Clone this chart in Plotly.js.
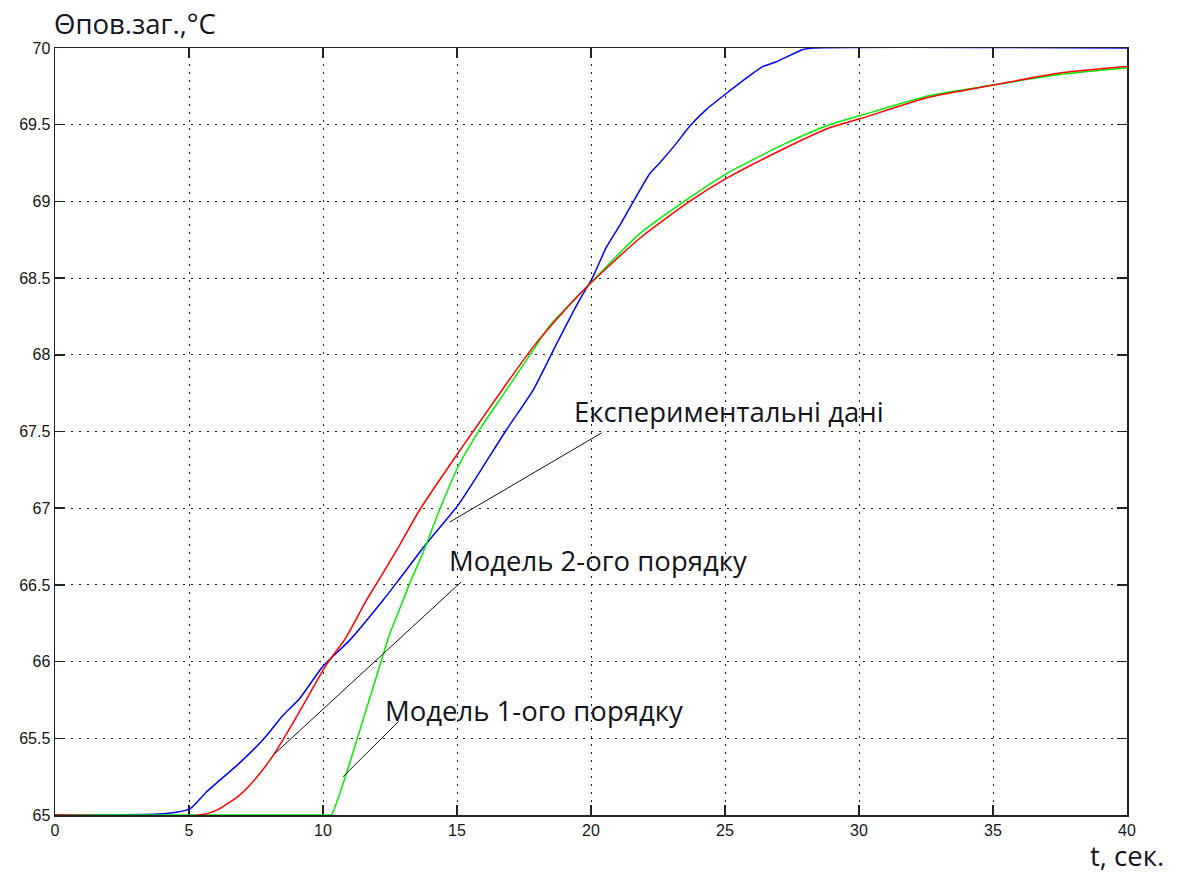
<!DOCTYPE html>
<html>
<head>
<meta charset="utf-8">
<script src="https://cdn.plot.ly/plotly-3.0.1.min.js"></script>
<style>
  html, body { margin: 0; padding: 0; background: #fff; }
  #chart { width: 1184px; height: 874px; }
</style>
</head>
<body>
<div id="chart"></div>
<script>
// Surface temperature step responses: measured data and two fitted models

// Experimental data (time, s / temperature, °C)
const expT = [0, 4.15, 5.03, 5.65, 6.89, 7.76, 8.51, 9.13, 10.0, 11.0, 12.24, 12.86, 13.86, 15.04, 15.97, 16.84, 17.84, 18.71, 19.58, 20.05, 20.57, 21.13, 21.75, 22.19, 22.56, 23.19, 23.68, 24.31, 25.17, 25.92, 26.42, 26.92, 27.91, 28.3, 40];
const expY = [65, 65.01, 65.04, 65.15, 65.34, 65.49, 65.65, 65.76, 65.97, 66.14, 66.40, 66.54, 66.77, 67.02, 67.27, 67.51, 67.77, 68.07, 68.36, 68.50, 68.70, 68.86, 69.05, 69.18, 69.25, 69.38, 69.49, 69.60, 69.72, 69.82, 69.88, 69.91, 69.99, 70, 70];

// Second-order model
const m2T = [0, 5.40, 6.02, 6.89, 7.64, 8.26, 8.88, 9.50, 10.13, 10.87, 11.62, 11.97, 12.86, 13.61, 15.04, 15.60, 16.84, 17.84, 18.71, 19.83, 21.82, 23.68, 25.05, 27.16, 28.9, 30.06, 32.64, 35.06, 37.6, 40];
const m2Y = [65, 65, 65.03, 65.13, 65.27, 65.42, 65.60, 65.79, 65.98, 66.16, 66.40, 66.50, 66.76, 66.99, 67.36, 67.50, 67.81, 68.05, 68.23, 68.44, 68.76, 69.00, 69.15, 69.34, 69.48, 69.54, 69.68, 69.76, 69.84, 69.88];

// First-order model with transport delay
const m1T = [0, 10.2, 10.31, 10.87, 11.37, 11.99, 12.49, 12.99, 13.21, 13.73, 14.35, 15.04, 15.91, 16.84, 17.84, 18.46, 19.83, 21.82, 23.56, 25.05, 27.16, 28.9, 30.06, 32.64, 35.06, 37.6, 40];
const m1Y = [65, 65, 65, 65.27, 65.55, 65.90, 66.18, 66.40, 66.50, 66.71, 66.99, 67.27, 67.53, 67.77, 68.03, 68.19, 68.44, 68.79, 69.01, 69.18, 69.37, 69.50, 69.56, 69.69, 69.76, 69.83, 69.87];

// Axis ticks
const xTicks = [0, 5, 10, 15, 20, 25, 30, 35, 40];
const yTicks = [65, 65.5, 66, 66.5, 67, 67.5, 68, 68.5, 69, 69.5, 70];

// Callout labels and their leader lines (from point on curve to label)
const calloutText = ["Експериментальні дані", "Модель 2-ого порядку", "Модель 1-ого порядку"];
const leaderFromT = [14.73, 8.20, 10.75];
const leaderFromY = [66.91, 65.40, 65.25];
const leaderToT = [20.39, 15.16, 12.82];
const leaderToY = [67.49, 66.52, 65.61];

const textFont = { family: "Open Sans, Noto Sans, sans-serif", size: 27.5, color: "#141420" };
const tickFont = { family: "Liberation Sans, Arial, sans-serif", size: 16, color: "#151515" };

const curve = (color) => ({ color: color, width: 1.5, shape: "spline", smoothing: 0.6 });

const traces = [
  { x: expT, y: expY, mode: "lines", line: curve("#0000ff"), name: calloutText[0] },
  { x: m1T, y: m1Y, mode: "lines", line: curve("#00ee00"), name: calloutText[2] },
  { x: m2T, y: m2Y, mode: "lines", line: curve("#ff0000"), name: calloutText[1] }
];

// Label placement (data coordinates of each label's left-centre point)
const labelAt = [[19.28, 67.63], [14.62, 66.66], [12.24, 65.68]];

const shapes = leaderFromT.map((t, i) => ({
  type: "line", xref: "x", yref: "y",
  x0: t, y0: leaderFromY[i], x1: leaderToT[i], y1: leaderToY[i],
  line: { color: "#111", width: 1 }, layer: "above"
}));

const annotations = calloutText.map((txt, i) => ({
  x: labelAt[i][0], y: labelAt[i][1], xref: "x", yref: "y",
  text: txt, showarrow: false, xanchor: "left", yanchor: "middle",
  font: textFont
}));
annotations.push({
  x: 0, y: 1, xref: "paper", yref: "paper", xanchor: "left", yanchor: "bottom",
  yshift: 4, xshift: -3,
  text: "Θпов.заг.,°C", showarrow: false, font: textFont
});
annotations.push({
  x: 1, y: 0, xref: "paper", yref: "paper", xanchor: "center", yanchor: "top",
  yshift: -20, xshift: 0,
  text: "t, сек.", showarrow: false, font: textFont
});

const axisCommon = {
  showline: true, linecolor: "#222", linewidth: 1.5, mirror: "ticks",
  ticks: "inside", ticklen: 10, tickwidth: 1.5, tickcolor: "#222",
  showgrid: true, gridcolor: "#222", gridwidth: 1, griddash: "2px,6px",
  zeroline: false, tickfont: tickFont, layer: "below traces"
};

const layout = {
  width: 1184, height: 874,
  margin: { l: 55, r: 57, t: 48, b: 59 },
  paper_bgcolor: "#fff", plot_bgcolor: "#fff",
  showlegend: false,
  xaxis: Object.assign({}, axisCommon, { range: [0, 40], tickmode: "array", tickvals: xTicks }),
  yaxis: Object.assign({}, axisCommon, { range: [65, 70], tickmode: "array", tickvals: yTicks }),
  shapes: shapes,
  annotations: annotations
};

Plotly.newPlot("chart", traces, layout, { staticPlot: true });
</script>
</body>
</html>
